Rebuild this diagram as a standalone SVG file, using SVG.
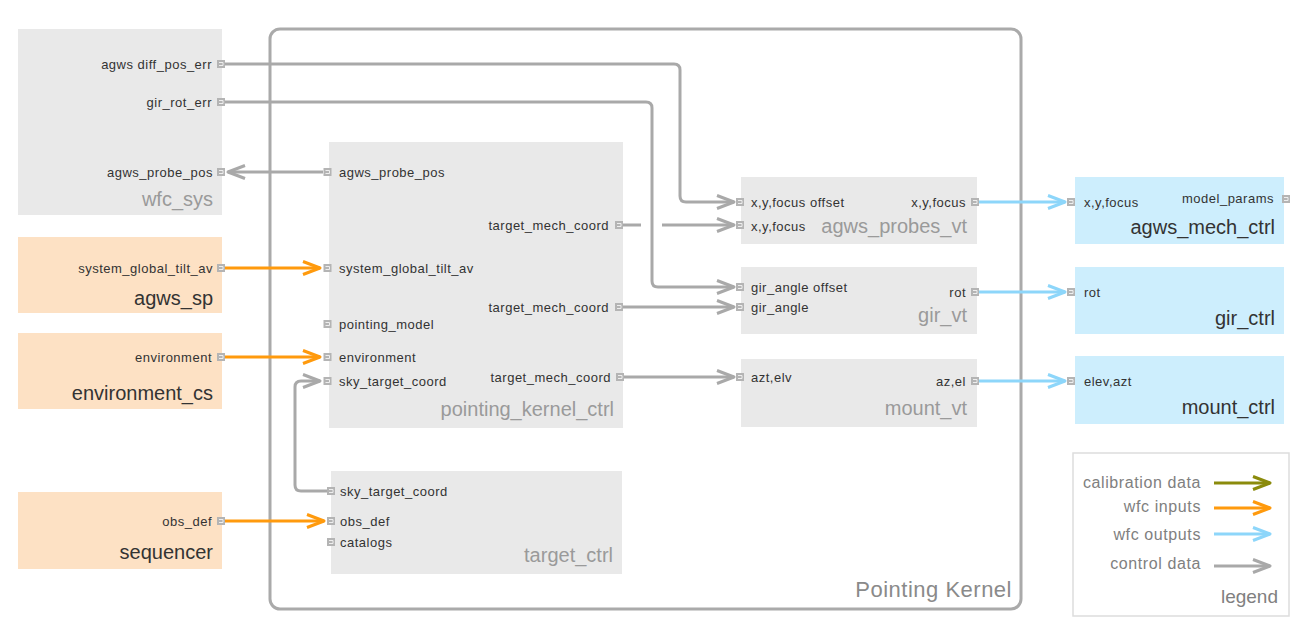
<svg xmlns="http://www.w3.org/2000/svg" xmlns:xlink="http://www.w3.org/1999/xlink" width="1302" height="632" viewBox="0 0 1302 632">
<style>
.bg{fill:#ffffff}
.gray{fill:#e9e9e9}
.peach{fill:#fde1c4}
.blue{fill:#cdeefd}
.lbl{font-family:"Liberation Sans",Arial,sans-serif;font-size:13px;letter-spacing:0.5px;fill:#333}
.end{text-anchor:end}
.ttl{font-family:"Liberation Sans",Arial,sans-serif;font-size:20px;fill:#9a9a9a;text-anchor:end}
.ttld{font-family:"Liberation Sans",Arial,sans-serif;font-size:20px;fill:#333;text-anchor:end}
.leg{font-family:"Liberation Sans",Arial,sans-serif;font-size:16px;letter-spacing:0.6px;fill:#808080;text-anchor:end}
.c{fill:none;stroke-width:3}
.cg{stroke:#a9a9a9}
.co{stroke:#ff9a0d}
.cb{stroke:#8dd6fa}
.ck{stroke:#8b8b0c}
</style>
<defs>
<g id="port"><rect width="8" height="8" fill="#b4b4b4"/><path d="M2,2.5 H6 V5.5 H2" fill="none" stroke="#eeeeee" stroke-width="1"/></g>
<marker id="ag" markerUnits="userSpaceOnUse" viewBox="0 0 20 16" markerWidth="20" markerHeight="16" refX="18" refY="8" orient="auto"><path d="M1,1.5 L18,8 L1,14.5" fill="none" stroke="#a9a9a9" stroke-width="3" stroke-linejoin="round"/></marker>
<marker id="ao" markerUnits="userSpaceOnUse" viewBox="0 0 20 16" markerWidth="20" markerHeight="16" refX="18" refY="8" orient="auto"><path d="M1,1.5 L18,8 L1,14.5" fill="none" stroke="#ff9a0d" stroke-width="3" stroke-linejoin="round"/></marker>
<marker id="ab" markerUnits="userSpaceOnUse" viewBox="0 0 20 16" markerWidth="20" markerHeight="16" refX="18" refY="8" orient="auto"><path d="M1,1.5 L18,8 L1,14.5" fill="none" stroke="#8dd6fa" stroke-width="3" stroke-linejoin="round"/></marker>
<marker id="ak" markerUnits="userSpaceOnUse" viewBox="0 0 20 16" markerWidth="20" markerHeight="16" refX="18" refY="8" orient="auto"><path d="M1,1.5 L18,8 L1,14.5" fill="none" stroke="#8b8b0c" stroke-width="3" stroke-linejoin="round"/></marker>
</defs>
<rect class="bg" width="1302" height="632"/>

<g id="pointing_kernel">
<rect x="270" y="29" width="751" height="580" rx="10" fill="#ffffff" stroke="#aaaaaa" stroke-width="3"/>
<text x="1012" y="597" font-family="Liberation Sans, Arial, sans-serif" font-size="22" letter-spacing="0.5" fill="#8a8a8a" text-anchor="end">Pointing Kernel</text>
</g>

<g id="wfc_sys">
<rect class="gray" x="18" y="29" width="204" height="186"/>
<text class="lbl end" x="212" y="69">agws diff_pos_err</text>
<text class="lbl end" x="212" y="107">gir_rot_err</text>
<text class="lbl end" x="213" y="177">agws_probe_pos</text>
<text class="ttl" x="213" y="206">wfc_sys</text>
<use href="#port" x="217" y="60"/><use href="#port" x="217" y="98"/><use href="#port" x="217" y="168"/>
</g>

<g id="agws_sp">
<rect class="peach" x="18" y="237" width="204" height="76"/>
<text class="lbl end" x="213" y="273">system_global_tilt_av</text>
<text class="ttld" x="213" y="305">agws_sp</text>
<use href="#port" x="217" y="264"/>
</g>

<g id="environment_cs">
<rect class="peach" x="18" y="333" width="204" height="76"/>
<text class="lbl end" x="212" y="362">environment</text>
<text class="ttld" x="213" y="400">environment_cs</text>
<use href="#port" x="217" y="353"/>
</g>

<g id="sequencer">
<rect class="peach" x="18" y="492" width="204" height="77"/>
<text class="lbl end" x="212" y="526">obs_def</text>
<text class="ttld" x="213" y="559">sequencer</text>
<use href="#port" x="217" y="517"/>
</g>

<g id="pointing_kernel_ctrl">
<rect class="gray" x="329" y="142" width="294" height="286"/>
<text class="lbl" x="339" y="177">agws_probe_pos</text>
<text class="lbl" x="339" y="273">system_global_tilt_av</text>
<text class="lbl" x="339" y="329">pointing_model</text>
<text class="lbl" x="339" y="362">environment</text>
<text class="lbl" x="339" y="386">sky_target_coord</text>
<text class="lbl end" x="609" y="230">target_mech_coord</text>
<text class="lbl end" x="609" y="312">target_mech_coord</text>
<text class="lbl end" x="611" y="382">target_mech_coord</text>
<text class="ttl" x="614" y="416">pointing_kernel_ctrl</text>
<use href="#port" x="323.5" y="168"/><use href="#port" x="323.5" y="264"/><use href="#port" x="323.5" y="320"/><use href="#port" x="323.5" y="353"/><use href="#port" x="323.5" y="377"/>
<use href="#port" x="615" y="221"/><use href="#port" x="615" y="303"/><use href="#port" x="616" y="373"/>
</g>

<g id="target_ctrl">
<rect class="gray" x="331" y="471" width="291" height="103"/>
<text class="lbl" x="340" y="496">sky_target_coord</text>
<text class="lbl" x="340" y="526">obs_def</text>
<text class="lbl" x="340" y="547">catalogs</text>
<text class="ttl" x="613" y="562">target_ctrl</text>
<use href="#port" x="327" y="487"/><use href="#port" x="327" y="517"/><use href="#port" x="327" y="538"/>
</g>

<g id="agws_probes_vt">
<rect class="gray" x="741" y="177" width="236" height="67"/>
<text class="lbl" x="751" y="207">x,y,focus offset</text>
<text class="lbl" x="751" y="231">x,y,focus</text>
<text class="lbl end" x="966" y="207">x,y,focus</text>
<text class="ttl" x="967" y="233">agws_probes_vt</text>
<use href="#port" x="736" y="198"/><use href="#port" x="736" y="221"/><use href="#port" x="971" y="198"/>
</g>

<g id="gir_vt">
<rect class="gray" x="741" y="267" width="236" height="67"/>
<text class="lbl" x="751" y="292">gir_angle offset</text>
<text class="lbl" x="751" y="312">gir_angle</text>
<text class="lbl end" x="966" y="297">rot</text>
<text class="ttl" x="967" y="322">gir_vt</text>
<use href="#port" x="736" y="283"/><use href="#port" x="736" y="303"/><use href="#port" x="971" y="288"/>
</g>

<g id="mount_vt">
<rect class="gray" x="741" y="359" width="236" height="68"/>
<text class="lbl" x="751" y="382">azt,elv</text>
<text class="lbl end" x="966" y="386">az,el</text>
<text class="ttl" x="967" y="415">mount_vt</text>
<use href="#port" x="736" y="373"/><use href="#port" x="971" y="377"/>
</g>

<g id="agws_mech_ctrl">
<rect class="blue" x="1075" y="177" width="209" height="67"/>
<text class="lbl" x="1084" y="207">x,y,focus</text>
<text class="lbl end" x="1274" y="203">model_params</text>
<text class="ttld" x="1275" y="234">agws_mech_ctrl</text>
<use href="#port" x="1067" y="198"/><use href="#port" x="1282" y="195"/>
</g>

<g id="gir_ctrl">
<rect class="blue" x="1075" y="267" width="209" height="67"/>
<text class="lbl" x="1084" y="297">rot</text>
<text class="ttld" x="1275" y="325">gir_ctrl</text>
<use href="#port" x="1067" y="288"/>
</g>

<g id="mount_ctrl">
<rect class="blue" x="1075" y="356" width="209" height="68"/>
<text class="lbl" x="1084" y="386">elev,azt</text>
<text class="ttld" x="1275" y="414">mount_ctrl</text>
<use href="#port" x="1067" y="377"/>
</g>

<g id="connectors">
<path class="c cg" d="M225,64 H674 Q680,64 680,70 V196 Q680,202 686,202 H734" marker-end="url(#ag)"/>
<path class="c cg" d="M225,102 H646 Q652,102 652,108 V281 Q652,287 658,287 H734" marker-end="url(#ag)"/>
<path class="c cg" d="M323,172 H228" marker-end="url(#ag)"/>
<path class="c cg" d="M623,225 H641"/>
<path class="c cg" d="M662,225 H734" marker-end="url(#ag)"/>
<path class="c cg" d="M623,307 H734" marker-end="url(#ag)"/>
<path class="c cg" d="M624,377 H734" marker-end="url(#ag)"/>
<path class="c cg" d="M327,491 H301 Q295,491 295,485 V387 Q295,381 301,381 H320" marker-end="url(#ag)"/>
<path class="c co" d="M225,268 H320" marker-end="url(#ao)"/>
<path class="c co" d="M225,357 H320" marker-end="url(#ao)"/>
<path class="c co" d="M225,521 H324" marker-end="url(#ao)"/>
<path class="c cb" d="M979,202 H1065" marker-end="url(#ab)"/>
<path class="c cb" d="M979,292 H1065" marker-end="url(#ab)"/>
<path class="c cb" d="M979,381 H1065" marker-end="url(#ab)"/>
</g>

<g id="legend">
<rect x="1073" y="453" width="216" height="163" fill="#ffffff" stroke="#dddddd" stroke-width="1.5"/>
<text class="leg" x="1201" y="488">calibration data</text>
<text class="leg" x="1201" y="512">wfc inputs</text>
<text class="leg" x="1201" y="540">wfc outputs</text>
<text class="leg" x="1201" y="569">control data</text>
<text x="1278" y="603" font-family="Liberation Sans, Arial, sans-serif" font-size="19" fill="#808080" text-anchor="end">legend</text>
<path class="c ck" d="M1214,483 H1270" marker-end="url(#ak)"/>
<path class="c co" d="M1214,508 H1270" marker-end="url(#ao)"/>
<path class="c cb" d="M1214,534 H1270" marker-end="url(#ab)"/>
<path class="c cg" d="M1214,566 H1270" marker-end="url(#ag)"/>
</g>
</svg>
